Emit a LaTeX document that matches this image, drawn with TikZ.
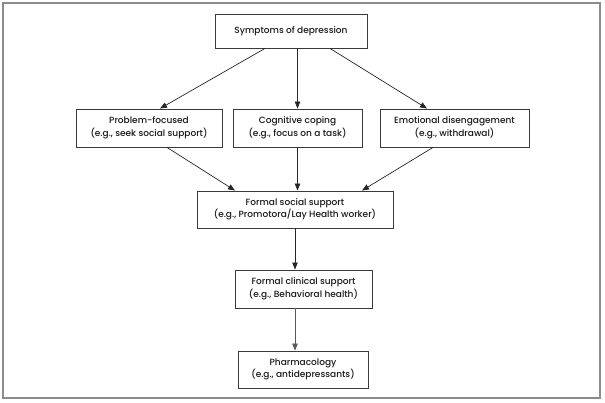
\documentclass[tikz,border=0pt]{standalone}
\usepackage{fontspec}
\setmainfont{Poppins}[UprightFont={* Medium}]
\usetikzlibrary{arrows.meta}
\definecolor{boxline}{HTML}{3A3A3A}
\definecolor{frameline}{HTML}{8C8C8C}

\begin{document}
\begin{tikzpicture} [x=1pt,y=-1pt,
  stagebox/.style= {shape=rectangle,draw=boxline,line width=0.9pt,fill=white,inner sep=0,align=center,
                    font=\fontsize{9}{12.5}\selectfont,text=black!90},
  flow/.style= {draw=black!85,line width=0.7pt,-{Triangle[length=7pt,width=5.5pt]}}]
  \useasboundingbox (0,0) rectangle (605,403);
  \draw[frameline,line width=1.3pt] (3,3) rectangle (600,398);
  % Row 1
  {\node[stagebox,minimum width=152pt,minimum height=34pt] (symp) at (291,31) {Symptoms of depression};}
  % Row 2
  {\node[stagebox,minimum width=146pt,minimum height=38pt] (prob) at (149,128) {Problem-focused\\(e.g., seek social support)};}
  {\node[stagebox,minimum width=129pt,minimum height=38pt] (cog)  at (297.5,128) {Cognitive coping\\(e.g., focus on a task)};}
  {\node[stagebox,minimum width=149pt,minimum height=38pt] (emo)  at (454.5,128) {Emotional disengagement\\(e.g., withdrawal)};}
  % Row 3
  {\node[stagebox,minimum width=196pt,minimum height=37pt] (soc)  at (295,209.5) {Formal social support\\(e.g., Promotora/Lay Health worker)};}
  % Row 4
  {\node[stagebox,minimum width=137pt,minimum height=38pt] (clin) at (303.5,289) {Formal clinical support\\(e.g., Behavioral health)};}
  % Row 5
  {\node[stagebox,minimum width=130pt,minimum height=37pt] (pharm) at (303,369.5) {Pharmacology\\(e.g., antidepressants)};}
  % Arrows
  \draw[flow] ([xshift=-26pt]symp.south) -- ([xshift=11pt]prob.north);
  \draw[flow] (cog.north |- symp.south) -- (cog.north);
  \draw[flow] ([xshift=39pt]symp.south) -- ([xshift=-27.5pt]emo.north);
  \draw[flow] ([xshift=18pt]prob.south) -- ([xshift=-60pt]soc.north);
  \draw[flow] (cog.south) -- (cog.south |- soc.north);
  \draw[flow] ([xshift=-21.5pt]emo.south) -- ([xshift=67pt]soc.north);
  \draw[flow] (soc.south) -- (soc.south |- clin.north);
  \draw[flow,draw=black!65] (soc.south |- clin.south) -- (soc.south |- pharm.north);
\end{tikzpicture}
\end{document}
